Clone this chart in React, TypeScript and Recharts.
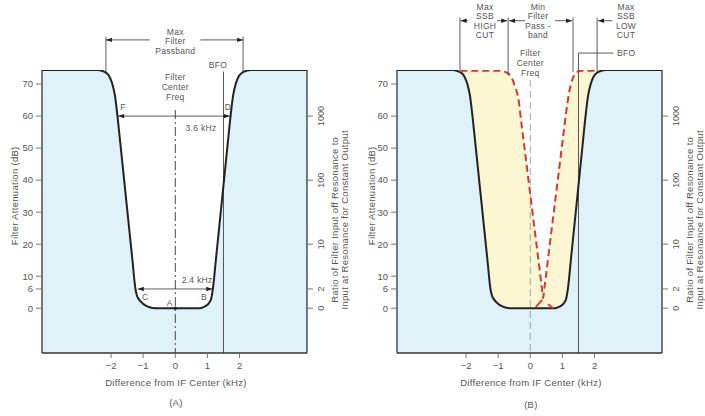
import React from 'react';
import {
  ComposedChart,
  XAxis,
  YAxis,
  Line,
  Area,
  ReferenceArea,
  ReferenceLine,
  ReferenceDot,
} from 'recharts';

// axis ticks
const kHzTicks = [-2, -1, 0, 1, 2];
const kHzLabels = ['−2', '−1', '0', '1', '2'];
const dbTicks = [0, 6, 10, 20, 30, 40, 50, 60, 70];
const ratioTicks = [0, 6, 20, 40, 60];
const ratioLabels = ['0', '2', '10', '100', '1000'];

// filter response: [kHz from IF center, attenuation dB]
const filterCurve = [
  [-4.15, 74.4], [-2.42, 74.4], [-2.2, 73.8], [-2.06, 72.5], [-1.96, 70], [-1.88, 66.5], [-1.8, 60],
  [-1.7, 50.4], [-1.34, 15.6],
  [-1.24, 6], [-1.2, 4.1], [-1.12, 2.6], [-1.03, 1.6], [-0.92, 0.8], [-0.8, 0.3], [-0.63, 0],
  [0.75, 0], [0.88, 0.35], [0.98, 0.9], [1.06, 1.8], [1.12, 3.1], [1.17, 6],
  [1.27, 15.8], [1.62, 50.2],
  [1.72, 60], [1.8, 66.5], [1.88, 70], [1.98, 72.5], [2.12, 73.8], [2.35, 74.4], [4.1, 74.4],
];

// min filter passband (panel B, dashed red)
const minCurve = [
  [-2.18, 74.2], [-0.95, 74.2], [-0.8, 73.9], [-0.67, 73.1], [-0.56, 71.6], [-0.47, 69], [-0.38, 66],
  [-0.28, 58], [0.26, 14.5],
  [0.36, 6.4], [0.4, 3.2], [0.44, 6.4],
  [0.54, 14.5], [1.02, 53.4],
  [1.12, 61.5], [1.22, 68], [1.31, 71.5], [1.42, 73.5], [1.58, 74.2], [2.09, 74.2],
];
const minStubL = [[0.17, 0.4], [0.37, 2.6]];
const minStubR = [[0.55, 1.2], [0.72, 0]];

const toRows = (pts: number[][]) => pts.map(([x, y]) => ({ x, y }));
const filterRows = toRows(filterCurve);
const minRows = toRows(minCurve);

const X_MIN = -4.15;
const X_MAX = 4.1;
const Y_MIN = -14;
const TOP = 74.4;

const BLUE = '#dff2f8';
const YELLOW = '#fcf6d2';
const RED = '#d8382c';
const INK = '#222';
const TEXT = '#555';
const FONT = '"Liberation Sans", Arial, sans-serif';

type NoteOpts = { anchor?: 'start' | 'middle' | 'end'; size?: number; lh?: number; rot?: boolean };

const note = (key: string, x: number, y: number, lines: string[], o: NoteOpts = {}) => {
  const size = o.size ?? 8.5;
  const lh = o.lh ?? 9.5;
  const content = (p: any) => {
    const vb = p.viewBox || {};
    const cx = vb.x;
    const cy = vb.y;
    if (o.rot) {
      return (
        <text
          transform={`translate(${cx},${cy}) rotate(-90)`}
          textAnchor="middle"
          fontSize={size}
          fill={TEXT}
          fontFamily={FONT}
          letterSpacing={0.3}
        >
          {lines.map((l, i) => (
            <tspan key={i} x={0} y={(i - (lines.length - 1) / 2) * lh + size * 0.35}>
              {l}
            </tspan>
          ))}
        </text>
      );
    }
    return (
      <text textAnchor={o.anchor ?? 'middle'} fontSize={size} fill={TEXT} fontFamily={FONT} letterSpacing={0.3}>
        {lines.map((l, i) => (
          <tspan key={i} x={cx} y={cy + i * lh + size * 0.35}>
            {l}
          </tspan>
        ))}
      </text>
    );
  };
  return (
    <ReferenceDot key={key} x={x} y={y} r={0} fill="none" stroke="none" ifOverflow="visible" label={content} />
  );
};

const arrowShape = (both: boolean) => (p: any) => {
  const { x1, y1, x2, y2 } = p;
  const a = Math.atan2(y2 - y1, x2 - x1);
  const head = (x: number, y: number, ang: number) => {
    const L = 6;
    const W = 2.2;
    const bx = x - L * Math.cos(ang);
    const by = y - L * Math.sin(ang);
    return `${x},${y} ${bx - W * Math.sin(ang)},${by + W * Math.cos(ang)} ${bx + W * Math.sin(ang)},${by - W * Math.cos(ang)}`;
  };
  return (
    <g>
      <line x1={x1} y1={y1} x2={x2} y2={y2} stroke="#333" strokeWidth={0.8} />
      <polygon points={head(x2, y2, a)} fill={INK} />
      {both && <polygon points={head(x1, y1, a + Math.PI)} fill={INK} />}
    </g>
  );
};

const arrow = (key: string, xa: number, ya: number, xb: number, yb: number, both = false) => (
  <ReferenceLine
    key={key}
    segment={[{ x: xa, y: ya }, { x: xb, y: yb }]}
    ifOverflow="visible"
    shape={arrowShape(both)}
  />
);

const seg = (key: string, xa: number, ya: number, xb: number, yb: number, extra: any = {}) => (
  <ReferenceLine
    key={key}
    segment={[{ x: xa, y: ya }, { x: xb, y: yb }]}
    ifOverflow="visible"
    stroke="#333"
    strokeWidth={0.8}
    {...extra}
  />
);

const RatioTick = (p: any) => {
  const i = ratioTicks.indexOf(p.payload.value);
  return (
    <text
      transform={`translate(${p.x + 6},${p.y}) rotate(-90)`}
      textAnchor="middle"
      dy="0.35em"
      fontSize={9}
      fill={TEXT}
      fontFamily={FONT}
    >
      {ratioLabels[i]}
    </text>
  );
};

function notesA() {
  return [
    note('mfp', 0, 86.3, ['Max', 'Filter', 'Passband']),
    arrow('mfpL', -0.8, 83.8, -2.16, 83.8),
    arrow('mfpR', 0.78, 83.8, 2.11, 83.8),
    seg('mfpVL', -2.16, 84.8, -2.16, 73.4),
    seg('mfpVR', 2.11, 84.8, 2.11, 73.6),
    note('bfo', 1.33, 76, ['BFO']),
    note('cf', 0, 72.3, ['Filter', 'Center', 'Freq'], { lh: 10.3 }),
    note('F', -1.63, 62.9, ['F']),
    note('D', 1.64, 62.9, ['D']),
    arrow('w36', -1.78, 60, 1.7, 60, true),
    note('w36t', 0.8, 56.3, ['3.6 kHz']),
    note('w24t', 0.68, 8.8, ['2.4 kHz']),
    arrow('w24', -1.17, 6, 1.15, 6, true),
    note('C', -0.94, 3.5, ['C']),
    note('A', -0.17, 1.6, ['A']),
    note('B', 0.89, 3.5, ['B']),
    <ReferenceDot key="adot" x={0} y={0} r={1.6} fill={INK} stroke="none" ifOverflow="visible" />,
  ];
}

function notesB() {
  return [
    note('hc', -1.41, 94.1, ['Max', 'SSB', 'HIGH', 'CUT'], { lh: 9.4 }),
    note('mf', 0.24, 94.1, ['Min', 'Filter', 'Pass -', 'band'], { lh: 9.4 }),
    note('lc', 2.98, 94.1, ['Max', 'SSB', 'LOW', 'CUT'], { lh: 9.4 }),
    seg('v1', -2.19, 90.8, -2.19, 74.4),
    seg('v2', -0.69, 90.8, -0.69, 72.8),
    seg('v3', 1.33, 90.8, 1.33, 73.8),
    seg('v4', 2.08, 90.8, 2.08, 73.8),
    arrow('a1', -1.95, 89.8, -2.17, 89.8),
    arrow('a2', -1.03, 89.8, -0.72, 89.8),
    arrow('a3', -0.16, 89.8, -0.66, 89.8),
    arrow('a4', 0.77, 89.8, 1.3, 89.8),
    arrow('a5', 2.55, 89.8, 2.11, 89.8),
    seg('bfoH', 1.5, 79.7, 2.58, 79.7),
    note('bfo', 2.7, 79.7, ['BFO'], { anchor: 'start' }),
    note('cf', 0, 79.7, ['Filter', 'Center', 'Freq'], { lh: 10 }),
  ];
}

function Panel({ variant }: { variant: 'A' | 'B' }) {
  const isB = variant === 'B';
  const leftW = isB ? 45 : 42;
  const rightW = isB ? 43 : 45;
  const width = leftW + 265 + rightW;
  return (
    <ComposedChart width={width} height={416} margin={{ top: 70, right: 0, bottom: 0, left: 0 }}>
      <ReferenceArea
        x1={X_MIN}
        x2={X_MAX}
        y1={Y_MIN}
        y2={TOP}
        fill={BLUE}
        fillOpacity={1}
        stroke="none"
        ifOverflow="visible"
      />
      <Area
        data={filterRows}
        dataKey="y"
        type="monotone"
        baseValue={TOP}
        fill={isB ? YELLOW : '#fff'}
        fillOpacity={1}
        stroke="none"
        dot={false}
        activeDot={false}
        isAnimationActive={false}
      />
      {isB && (
        <Area
          data={minRows}
          dataKey="y"
          type="monotone"
          baseValue={TOP}
          fill="#fff"
          fillOpacity={1}
          stroke="none"
          dot={false}
          activeDot={false}
          isAnimationActive={false}
        />
      )}
      {isB
        ? seg('ctr', 0, 71.3, 0, Y_MIN, { stroke: '#9aa8a4', strokeWidth: 1, strokeDasharray: '7 4' })
        : seg('ctr', 0, 61.9, 0, Y_MIN, { stroke: '#333', strokeWidth: 0.9, strokeDasharray: '9 3 2 3' })}
      {seg('bfoV', 1.5, isB ? 79.7 : 73.9, 1.5, Y_MIN, { stroke: '#444', strokeWidth: 0.9 })}
      <Line
        data={filterRows}
        dataKey="y"
        type="monotone"
        stroke={INK}
        strokeWidth={2}
        dot={false}
        activeDot={false}
        isAnimationActive={false}
      />
      {isB && (
        <Line
          data={minRows}
          dataKey="y"
          type="monotone"
          stroke={RED}
          strokeWidth={2}
          strokeDasharray="7 4"
          dot={false}
          activeDot={false}
          isAnimationActive={false}
        />
      )}
      {isB && (
        <Line data={toRows(minStubL)} dataKey="y" type="linear" stroke={RED} strokeWidth={1.8} dot={false} activeDot={false} isAnimationActive={false} />
      )}
      {isB && (
        <Line data={toRows(minStubR)} dataKey="y" type="linear" stroke={RED} strokeWidth={1.8} dot={false} activeDot={false} isAnimationActive={false} />
      )}
      <XAxis
        type="number"
        dataKey="x"
        domain={[X_MIN, X_MAX]}
        ticks={kHzTicks}
        tickFormatter={(v: number) => kHzLabels[kHzTicks.indexOf(v)]}
        interval={0}
        allowDataOverflow
        height={63}
        tickSize={5}
        tickMargin={4}
        axisLine={{ stroke: '#333', strokeWidth: 1.3 }}
        tickLine={{ stroke: '#777' }}
        tick={{ fill: TEXT, fontSize: 9.5, fontFamily: FONT }}
      />
      <YAxis
        type="number"
        domain={[Y_MIN, TOP]}
        ticks={dbTicks}
        interval={0}
        allowDataOverflow
        width={leftW}
        tickSize={6}
        tickMargin={3}
        axisLine={{ stroke: '#333', strokeWidth: 1.3 }}
        tickLine={{ stroke: '#777' }}
        tick={{ fill: TEXT, fontSize: 9.5, fontFamily: FONT }}
      />
      <YAxis
        yAxisId="r"
        orientation="right"
        type="number"
        domain={[Y_MIN, TOP]}
        ticks={ratioTicks}
        interval={0}
        allowDataOverflow
        width={rightW}
        tickSize={6}
        axisLine={{ stroke: '#333', strokeWidth: 1.3 }}
        tickLine={{ stroke: '#777' }}
        tick={RatioTick}
      />
      {isB ? notesB() : notesA()}
      {note('yl', isB ? -4.93 : -4.99, 35.1, ['Filter Attenuation (dB)'], { rot: true, size: 9.5 })}
      {note(
        'yr',
        5.12,
        27.6,
        ['Ratio of Filter Input off Resonance to', 'Input at Resonance for Constant Output'],
        { rot: true, size: 9.5, lh: 10 }
      )}
      {note('xl', 0.02, -23.4, ['Difference from IF Center (kHz)'], { size: 9.5 })}
      {note('cap', 0.02, isB ? -30.2 : -29.6, [isB ? '(B)' : '(A)'], { size: 9.5 })}
    </ComposedChart>
  );
}

export default function App() {
  return (
    <div style={{ position: 'absolute', left: 0, top: 0, width: 705, height: 416, background: '#fff', fontFamily: FONT }}>
      <div style={{ position: 'absolute', left: 0, top: 0 }}>
        <Panel variant="A" />
      </div>
      <div style={{ position: 'absolute', left: 352, top: 0 }}>
        <Panel variant="B" />
      </div>
    </div>
  );
}
